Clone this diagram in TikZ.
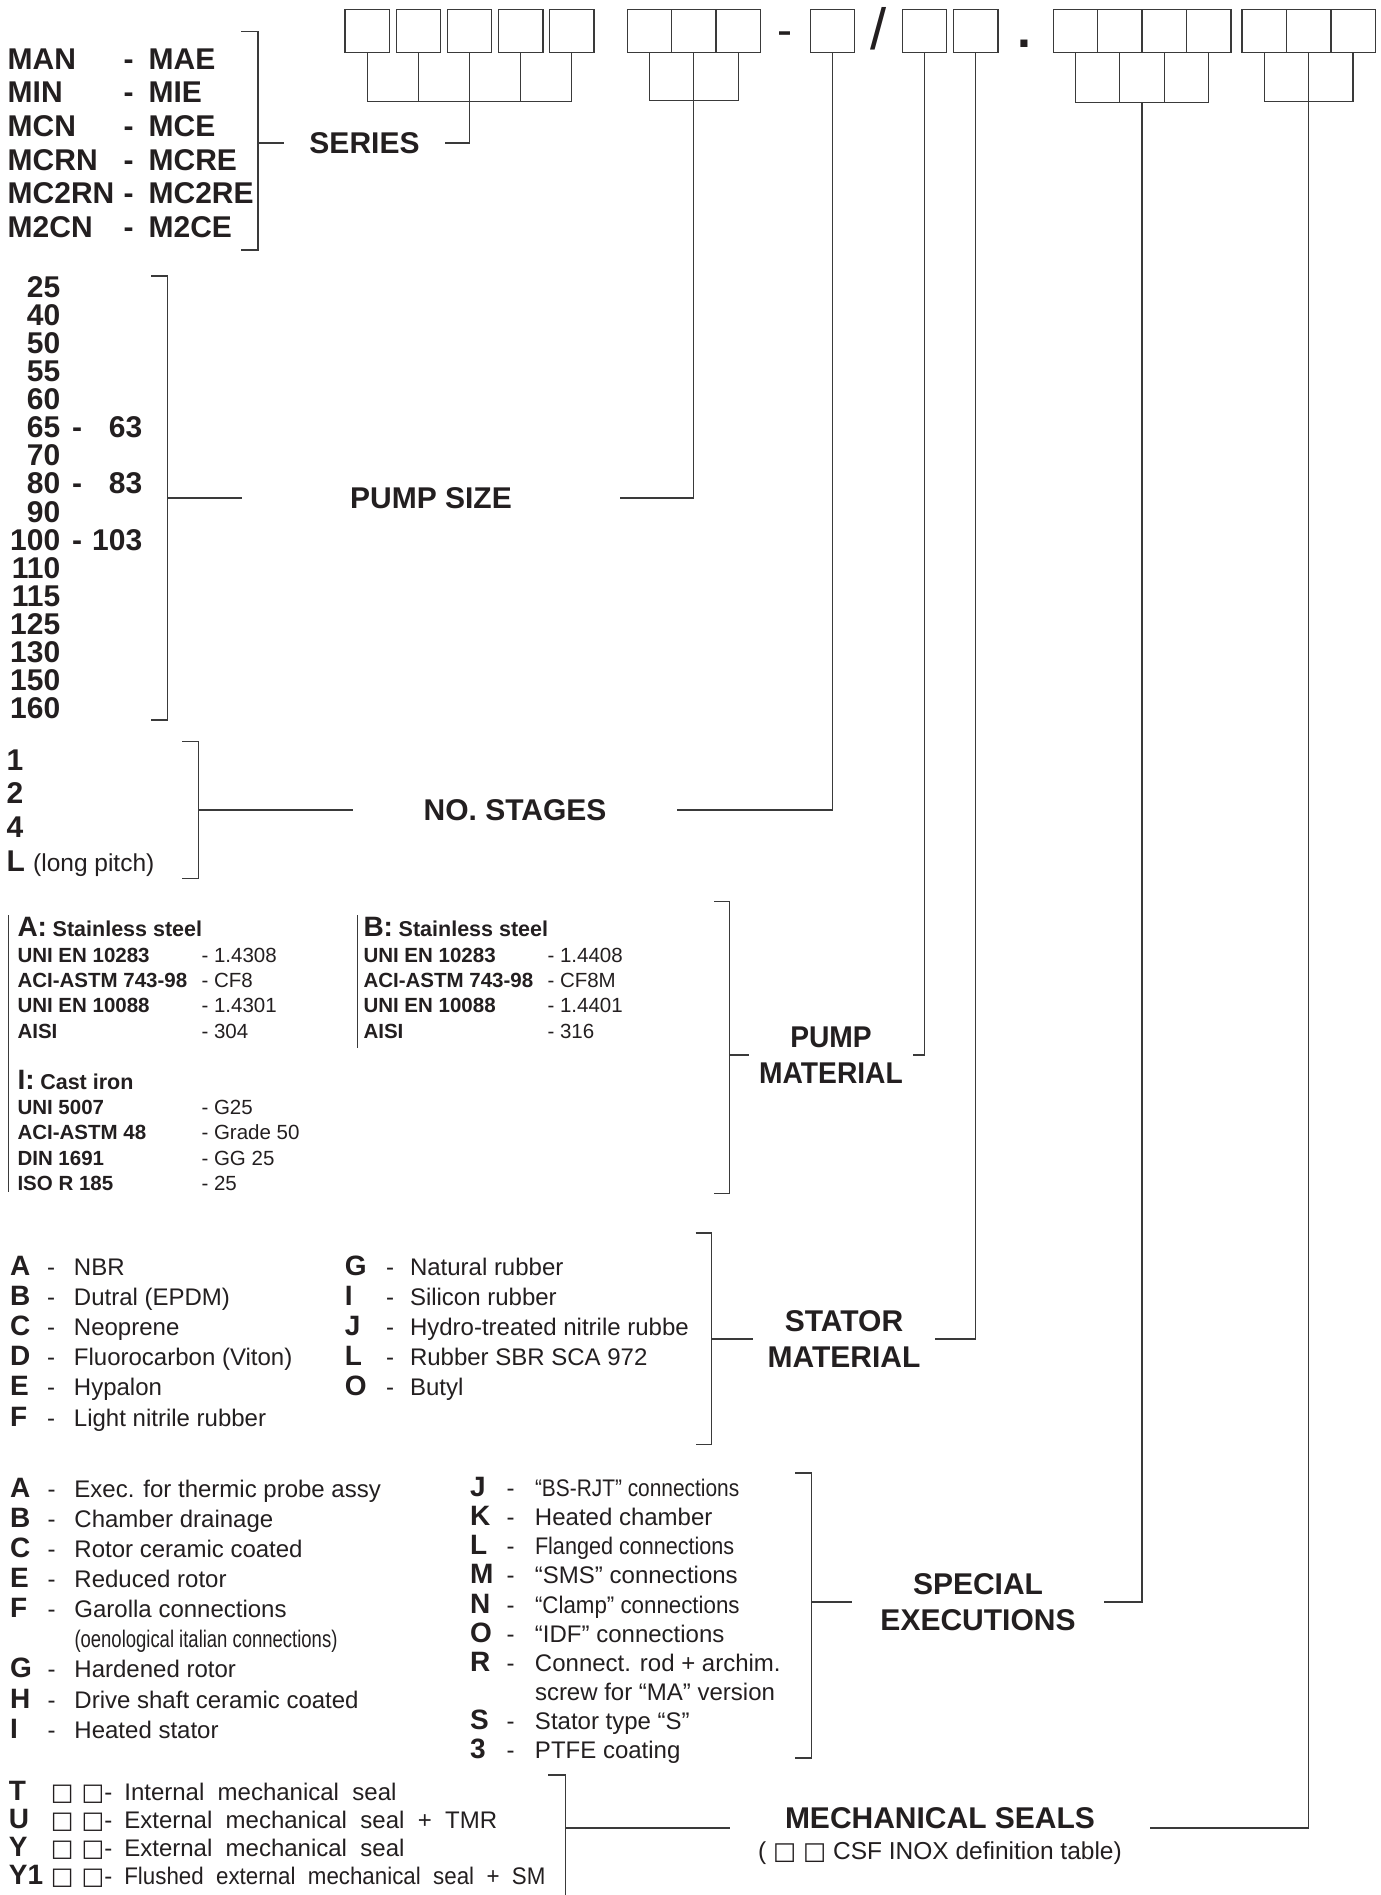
\documentclass[tikz,border=0pt]{standalone}
\usepackage{fontspec}
\setmainfont{Liberation Sans}
\newfontfamily\squarefont{DejaVu Sans}
\usepackage{graphicx}
\usepackage{array}
\usetikzlibrary{positioning}

\definecolor{inkblack}{HTML}{231F20}
\definecolor{linegray}{HTML}{3A3A3A}

\newcommand{\sq}{{\squarefont □}}
\newcommand{\slots}{\sq\hspace{8pt}\sq}
\newcommand{\choice}[1]{{\fontsize{28}{30}\selectfont\bfseries #1}}
\newcommand{\val}[1]{{\mdseries #1}}
\newcommand{\rowpitch}[2]{\setbox\strutbox\hbox{\vrule height #1pt depth #2pt width 0pt}}

\begin{document}
\begin{tikzpicture}[
    x=1pt, y=-1pt,
    every node/.style={text=inkblack},
    slot/.style={draw=linegray, line width=1.4pt, minimum width=44.4pt,
                 minimum height=43.5pt, inner sep=0pt, outer sep=0pt},
    wire/.style={draw=linegray, line width=1.1pt},
    field/.style={font=\fontsize{30}{36.5}\selectfont\bfseries, align=center,
                  inner ysep=0pt, inner xsep=25pt, outer sep=0pt},
    entries/.style={anchor=base west, inner sep=0pt, outer sep=0pt}
]
\fill[white] (0,0) rectangle (1381,1895);
\useasboundingbox (0,0) rectangle (1381,1895);

% code boxes
\node[slot] (ser1) at (367.3,31) {};
\node[slot, right=6.7pt of ser1] (ser2) {};
\node[slot, right=6.7pt of ser2] (ser3) {};
\node[slot, right=6.7pt of ser3] (ser4) {};
\node[slot, right=6.7pt of ser4] (ser5) {};
\node[slot] (size1) at (649.4,31) {};
\node[slot, right=0pt of size1] (size2) {};
\node[slot, right=0pt of size2] (size3) {};
\node[anchor=base, font=\fontsize{45}{45}\selectfont] (dash) at (784.5,45.6) {-};
\node[slot] (stg) at (832.5,31) {};
\node[anchor=base, font=\fontsize{58}{58}\selectfont] (slash) at (879,49.5) {/};
\node[slot] (mat) at (924.5,31) {};
\node[slot, right=6.7pt of mat] (sta) {};
\node[anchor=base, font=\fontsize{50}{50}\selectfont\bfseries] (dot) at (1024,47.8) {.};
\node[slot] (spc1) at (1075.4,31) {};
\node[slot, right=0pt of spc1] (spc2) {};
\node[slot, right=0pt of spc2] (spc3) {};
\node[slot, right=0pt of spc3] (spc4) {};
\node[slot] (mec1) at (1264.2,31) {};
\node[slot, right=0pt of mec1] (mec2) {};
\node[slot, right=0pt of mec2] (mec3) {};

% group titles
\node[field] (series) at (364.5,143) {SERIES};
\node[field, inner xsep=108pt] (pumpsize) at (431,498) {PUMP SIZE};
\node[field, inner xsep=71pt] (stages) at (515,810) {NO. STAGES};
\node[field, inner xsep=10.6pt] (pumpmat) at (831,1055)
  {\scalebox{0.94}[1]{PUMP}\\\scalebox{0.94}[1]{MATERIAL}};
\node[field, inner xsep=14.8pt] (statormat) at (844,1339) {STATOR\\MATERIAL};
\node[field, inner xsep=28.5pt] (special) at (978,1602) {SPECIAL\\EXECUTIONS};
\node[field, inner xsep=55pt, anchor=base] (mechseals) at (940,1828) {MECHANICAL SEALS};
\node[below=13pt of mechseals, inner sep=0pt, font=\fontsize{24.5}{28}\selectfont]
  (mechnote) {( \sq\ \sq\ CSF INOX definition table)};

% option lists
\node[entries, font=\fontsize{30}{33.6}\selectfont\bfseries] (serlist) at (7.7,69.3) {%
  \rowpitch{23.5}{10.1}%
  \begin{tabular}[t]{@{}p{116pt}@{}l@{}}
  MAN & -\hspace{15pt}MAE\\
  MIN & -\hspace{15pt}MIE\\
  MCN & -\hspace{15pt}MCE\\
  MCRN & -\hspace{15pt}MCRE\\
  MC2RN & -\hspace{15pt}MC2RE\\
  M2CN & -\hspace{15pt}M2CE
  \end{tabular}};
\node[entries, font=\fontsize{30}{28.04}\selectfont\bfseries] (sizelist) at (10.2,297.7) {%
  \rowpitch{22}{6.04}%
  \begin{tabular}[t]{@{}r@{\hspace{12pt}}c@{\hspace{10pt}}r@{}}
  25\\ 40\\ 50\\ 55\\ 60\\
  65 & - & 63\\ 70\\
  80 & - & 83\\ 90\\
  100 & - & 103\\
  110\\ 115\\ 125\\ 130\\ 150\\ 160
  \end{tabular}};
\node[entries, font=\fontsize{30}{33.9}\selectfont\bfseries] (stglist) at (6.5,770) {%
  \rowpitch{23}{10.9}%
  \begin{tabular}[t]{@{}l@{}}
  1\\ 2\\ 4\\
  L {\mdseries\fontsize{24.5}{30}\selectfont (long pitch)}
  \end{tabular}};
\node[entries, font=\fontsize{20.5}{25.4}\selectfont\bfseries] (matA) at (17.5,936.7) {%
  \rowpitch{20.4}{5}%
  \begin{tabular}[t]{@{}p{184pt}@{}l@{}}
  \multicolumn{2}{@{}l@{}}{\choice{A:} {\fontsize{21.5}{25}\selectfont Stainless steel}}\\
  UNI EN 10283 & \val{- 1.4308}\\
  ACI-ASTM 743-98 & \val{- CF8}\\
  UNI EN 10088 & \val{- 1.4301}\\
  AISI & \val{- 304}\\
  & \\
  \multicolumn{2}{@{}l@{}}{\choice{I:} {\fontsize{21.5}{25}\selectfont Cast iron}}\\
  UNI 5007 & \val{- G25}\\
  ACI-ASTM 48 & \val{- Grade 50}\\
  DIN 1691 & \val{- GG 25}\\
  ISO R 185 & \val{- 25}
  \end{tabular}};
\node[entries, font=\fontsize{20.5}{25.4}\selectfont\bfseries] (matB) at (363.5,936.7) {%
  \rowpitch{20.4}{5}%
  \begin{tabular}[t]{@{}p{184pt}@{}l@{}}
  \multicolumn{2}{@{}l@{}}{\choice{B:} {\fontsize{21.5}{25}\selectfont Stainless steel}}\\
  UNI EN 10283 & \val{- 1.4408}\\
  ACI-ASTM 743-98 & \val{- CF8M}\\
  UNI EN 10088 & \val{- 1.4401}\\
  AISI & \val{- 316}
  \end{tabular}};
\node[entries, font=\fontsize{24}{30.2}\selectfont] (statlist) at (10,1275) {%
  \rowpitch{21.2}{9}%
  \begin{tabular}[t]{@{}p{37pt}@{}p{27pt}@{}p{271pt}@{}p{41pt}@{}p{24pt}@{}l@{}}
  \choice{A} & - & NBR & \choice{G} & - & Natural rubber\\
  \choice{B} & - & Dutral (EPDM) & \choice{I} & - & Silicon rubber\\
  \choice{C} & - & Neoprene & \choice{J} & - & Hydro-treated nitrile rubbe\\
  \choice{D} & - & Fluorocarbon (Viton) & \choice{L} & - & Rubber SBR SCA 972\\
  \choice{E} & - & Hypalon & \choice{O} & - & Butyl\\
  \choice{F} & - & Light nitrile rubber & & &
  \end{tabular}};
\node[entries, font=\fontsize{24}{30.1}\selectfont] (execlist) at (10,1497.3) {%
  \rowpitch{21.1}{9}%
  \begin{tabular}[t]{@{}p{37.5pt}@{}p{27pt}@{}l@{}}
  \choice{A} & - & Exec. for thermic probe assy\\
  \choice{B} & - & Chamber drainage\\
  \choice{C} & - & Rotor ceramic coated\\
  \choice{E} & - & Reduced rotor\\
  \choice{F} & - & Garolla connections\\
  & & \scalebox{0.77}[1]{(oenological italian connections)}\\
  \choice{G} & - & Hardened rotor\\
  \choice{H} & - & Drive shaft ceramic coated\\
  \choice{I} & - & Heated stator
  \end{tabular}};
\node[entries, font=\fontsize{24}{29.07}\selectfont] (execlist2) at (470,1496.7) {%
  \rowpitch{21}{8.07}%
  \begin{tabular}[t]{@{}p{36.5pt}@{}p{28.5pt}@{}l@{}}
  \choice{J} & - & \scalebox{0.87}[1]{“BS-RJT” connections}\\
  \choice{K} & - & Heated chamber\\
  \choice{L} & - & \scalebox{0.9}[1]{Flanged connections}\\
  \choice{M} & - & “SMS” connections\\
  \choice{N} & - & \scalebox{0.93}[1]{“Clamp” connections}\\
  \choice{O} & - & “IDF” connections\\
  \choice{R} & - & Connect. rod + archim.\\
  & & screw for “MA” version\\
  \choice{S} & - & Stator type “S”\\
  \choice{3} & - & PTFE coating
  \end{tabular}};
\node[entries, font=\fontsize{24}{28.3}\selectfont] (seallist) at (9,1800) {%
  \rowpitch{20.3}{8}%
  \begin{tabular}[t]{@{}p{42pt}@{}l@{}}
  \choice{T} & \slots-\hspace{12pt}Internal\ \ mechanical\ \ seal\\
  \choice{U} & \slots-\hspace{12pt}External\ \ mechanical\ \ seal\ \ +\ \ TMR\\
  \choice{Y} & \slots-\hspace{12pt}External\ \ mechanical\ \ seal\\
  \choice{Y1} & \slots-\hspace{12pt}\scalebox{0.93}[1]{Flushed\ \ external\ \ mechanical\ \ seal\ \ +\ \ SM}
  \end{tabular}};

% brackets round the lists
\draw[wire] (241,31.7) -| (258,250) -- (241,250);
\draw[wire] (151,276) -| (167.4,720) -- (151,720);
\draw[wire] (182,741.7) -| (198.7,878.3) -- (182,878.3);
\draw[wire] (8.7,915) -- (8.7,1191.7);
\draw[wire] (357.7,915) -- (357.7,1048.3);
\draw[wire] (714,901.7) -| (729.3,1193.3) -- (714,1193.3);
\draw[wire] (695.6,1233) -| (711.5,1444.5) -- (695.6,1444.5);
\draw[wire] (795,1473) -| (811.5,1758) -- (795,1758);
\draw[wire] (548,1775) -| (565.4,1895);

% bracket to title
\coordinate (sertick) at (258,143);
\coordinate (sizetick) at (167.4,498);
\coordinate (stgtick) at (198.7,810);
\coordinate (mattick) at (729.3,1055);
\coordinate (statick) at (711.5,1339);
\coordinate (spctick) at (811.5,1602);
\coordinate (mectick) at (565.4,1828);
\draw[wire] (sertick) -- (series.west);
\draw[wire] (sizetick) -- (pumpsize.west);
\draw[wire] (stgtick) -- (stages.west);
\draw[wire] (mattick) -- (pumpmat.west);
\draw[wire] (statick) -- (statormat.west);
\draw[wire] (spctick) -- (special.west);
\draw[wire] (mectick) -- (mechseals.base west);

% title to code boxes
\draw[wire] (ser1.south) -- ++(0,48.5) -| (ser5.south);
\draw[wire] (ser2.south) -- ++(0,48.5) (ser4.south) -- ++(0,48.5);
\draw[wire] (ser3.south) |- (series.east);
\draw[wire] (size1.south) -- ++(0,48) -| (size3.south);
\draw[wire] (size2.south) |- (pumpsize.east);
\draw[wire] (stg.south) |- (stages.east);
\draw[wire] (mat.south) |- (pumpmat.east);
\draw[wire] (sta.south) |- (statormat.east);
\draw[wire] (spc1.south) -- ++(0,49.5) -| (spc4.south);
\draw[wire] (spc2.south) -- ++(0,49.5) (spc3.south) -- ++(0,49.5);
\draw[wire] (spc2.south east) ++(0,49.5) |- (special.east);
\draw[wire] (mec1.south) -- ++(0,48.5) -| (mec3.south);
\draw[wire] (mec2.south) |- (mechseals.base east);
\end{tikzpicture}
\end{document}
